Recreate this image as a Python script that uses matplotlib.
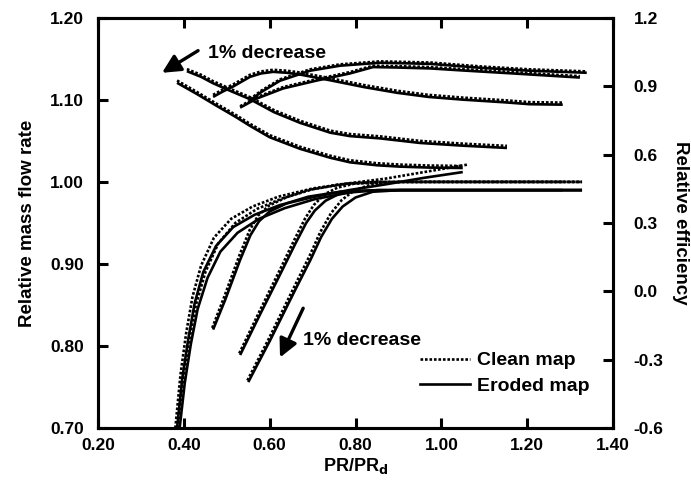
import matplotlib
matplotlib.use('Agg')
import matplotlib.pyplot as plt

plt.rcParams['font.family'] = ['Liberation Sans', 'DejaVu Sans']
plt.rcParams['font.weight'] = 'bold'

# ---- relative mass flow rate (left axis) ----
f1c_x = [0.380, 0.392, 0.405, 0.420, 0.440, 0.470, 0.510, 0.560, 0.620, 0.700, 0.780, 0.870, 0.960, 1.060]
f1c_y = [0.700, 0.765, 0.815, 0.860, 0.898, 0.932, 0.955, 0.970, 0.982, 0.992, 0.998, 1.004, 1.012, 1.021]
f1e_x = [0.384, 0.396, 0.410, 0.425, 0.445, 0.475, 0.515, 0.565, 0.625, 0.705, 0.785, 0.870, 0.960, 1.050]
f1e_y = [0.700, 0.760, 0.808, 0.852, 0.890, 0.922, 0.945, 0.960, 0.972, 0.982, 0.990, 0.997, 1.005, 1.012]

f2c_x = [0.386, 0.398, 0.412, 0.428, 0.450, 0.480, 0.520, 0.570, 0.630, 0.700, 0.780, 0.850, 1.328]
f2c_y = [0.700, 0.758, 0.806, 0.850, 0.890, 0.925, 0.950, 0.967, 0.980, 0.991, 0.998, 1.000, 1.000]
f2e_x = [0.390, 0.402, 0.416, 0.432, 0.455, 0.485, 0.525, 0.575, 0.635, 0.705, 0.785, 0.850, 1.328]
f2e_y = [0.700, 0.755, 0.802, 0.845, 0.883, 0.915, 0.938, 0.955, 0.968, 0.979, 0.987, 0.990, 0.990]

f3c_x = [0.466, 0.494, 0.529, 0.553, 0.573, 0.598, 0.638, 0.688, 0.762, 0.857, 1.283]
f3c_y = [0.822, 0.860, 0.910, 0.941, 0.959, 0.971, 0.981, 0.990, 0.997, 1.000, 1.000]
f3e_x = [0.468, 0.496, 0.531, 0.555, 0.575, 0.600, 0.640, 0.690, 0.764, 0.857, 1.283]
f3e_y = [0.820, 0.856, 0.905, 0.935, 0.952, 0.964, 0.974, 0.982, 0.988, 0.990, 0.990]

f4c_x = [0.529, 0.575, 0.622, 0.658, 0.683, 0.703, 0.728, 0.758, 0.798, 0.904, 1.328]
f4c_y = [0.791, 0.841, 0.891, 0.930, 0.956, 0.972, 0.985, 0.993, 0.998, 1.000, 1.000]
f4e_x = [0.531, 0.577, 0.624, 0.660, 0.685, 0.705, 0.730, 0.760, 0.800, 0.904, 1.328]
f4e_y = [0.789, 0.838, 0.887, 0.925, 0.950, 0.965, 0.977, 0.985, 0.989, 0.990, 0.990]

f5c_x = [0.548, 0.599, 0.657, 0.693, 0.718, 0.743, 0.768, 0.798, 0.838, 0.904, 1.328]
f5c_y = [0.758, 0.810, 0.872, 0.910, 0.939, 0.962, 0.978, 0.990, 0.997, 1.000, 1.000]
f5e_x = [0.550, 0.601, 0.659, 0.695, 0.720, 0.745, 0.770, 0.800, 0.840, 0.904, 1.328]
f5e_y = [0.756, 0.807, 0.868, 0.905, 0.933, 0.955, 0.970, 0.981, 0.988, 0.990, 0.990]

# ---- relative efficiency (right axis) ----
q_x = [0.384, 0.430, 0.477, 0.520, 0.554, 0.600, 0.671, 0.741, 0.787, 0.850, 0.904, 0.970, 1.050]
q_clean = [0.925, 0.875, 0.822, 0.775, 0.735, 0.685, 0.634, 0.595, 0.575, 0.562, 0.556, 0.552, 0.550]
q_eroded = [0.915, 0.866, 0.813, 0.766, 0.726, 0.676, 0.625, 0.586, 0.566, 0.553, 0.547, 0.543, 0.541]

p_x = [0.407, 0.440, 0.468, 0.510, 0.554, 0.610, 0.671, 0.741, 0.787, 0.857, 0.950, 1.050, 1.153]
p_clean = [0.975, 0.950, 0.922, 0.887, 0.852, 0.795, 0.748, 0.705, 0.690, 0.680, 0.660, 0.648, 0.638]
p_eroded = [0.966, 0.941, 0.913, 0.878, 0.843, 0.786, 0.739, 0.696, 0.681, 0.671, 0.651, 0.639, 0.629]

r_x = [0.468, 0.490, 0.515, 0.554, 0.580, 0.608, 0.640, 0.671, 0.741, 0.820, 0.897, 0.970, 1.050, 1.150, 1.206, 1.283]
r_clean = [0.862, 0.885, 0.908, 0.950, 0.965, 0.972, 0.968, 0.960, 0.935, 0.905, 0.880, 0.862, 0.850, 0.838, 0.830, 0.828]
r_eroded = [0.853, 0.876, 0.899, 0.941, 0.956, 0.963, 0.959, 0.951, 0.926, 0.896, 0.871, 0.853, 0.841, 0.829, 0.821, 0.819]

s_x = [0.531, 0.570, 0.631, 0.710, 0.787, 0.841, 0.897, 0.974, 1.050, 1.167, 1.323]
s_clean = [0.812, 0.852, 0.896, 0.931, 0.962, 0.990, 0.988, 0.984, 0.975, 0.962, 0.944]
s_eroded = [0.806, 0.846, 0.890, 0.925, 0.956, 0.984, 0.982, 0.978, 0.969, 0.956, 0.938]

t_x = [0.554, 0.580, 0.624, 0.694, 0.764, 0.857, 0.974, 1.090, 1.206, 1.339]
t_clean = [0.843, 0.880, 0.930, 0.974, 0.996, 1.009, 1.004, 0.987, 0.974, 0.965]
t_eroded = [0.837, 0.874, 0.924, 0.968, 0.990, 1.003, 0.998, 0.981, 0.968, 0.959]

flow_clean = [(f1c_x, f1c_y), (f2c_x, f2c_y), (f3c_x, f3c_y), (f4c_x, f4c_y), (f5c_x, f5c_y)]
flow_eroded = [(f1e_x, f1e_y), (f2e_x, f2e_y), (f3e_x, f3e_y), (f4e_x, f4e_y), (f5e_x, f5e_y)]
eff = [(q_x, q_clean, q_eroded), (p_x, p_clean, p_eroded), (r_x, r_clean, r_eroded),
       (s_x, s_clean, s_eroded), (t_x, t_clean, t_eroded)]

dot = (0, (1.0, 0.7))
lw = 1.9

fig = plt.figure(figsize=(6.91, 4.82), dpi=100)
ax = fig.add_axes([0.142, 0.112, 0.745, 0.851])
ax2 = ax.twinx()

for x, y in flow_eroded:
    ax.plot(x, y, color='black', lw=lw, solid_capstyle='butt', solid_joinstyle='round')
for x, y in flow_clean:
    ax.plot(x, y, color='black', lw=lw, ls=dot)
for x, yc, ye in eff:
    ax2.plot(x, ye, color='black', lw=lw, solid_capstyle='butt', solid_joinstyle='round')
    ax2.plot(x, yc, color='black', lw=lw, ls=dot)

ax.set_xlim(0.2, 1.4)
ax.set_ylim(0.7, 1.2)
ax2.set_ylim(-0.6, 1.2)
ax.set_xticks([0.2, 0.4, 0.6, 0.8, 1.0, 1.2, 1.4])
ax.set_xticklabels(['0.20', '0.40', '0.60', '0.80', '1.00', '1.20', '1.40'])
ax.set_yticks([0.7, 0.8, 0.9, 1.0, 1.1, 1.2])
ax.set_yticklabels(['0.70', '0.80', '0.90', '1.00', '1.10', '1.20'])
ax2.set_yticks([-0.6, -0.3, 0.0, 0.3, 0.6, 0.9, 1.2])
ax2.set_yticklabels(['-0.6', '-0.3', '0.0', '0.3', '0.6', '0.9', '1.2'])

for a in (ax, ax2):
    for s in a.spines.values():
        s.set_linewidth(2.2)
ax.tick_params(axis='x', direction='in', length=7, width=2.2, labelsize=12.5, pad=7, top=True)
ax.tick_params(axis='y', direction='in', length=7, width=2.2, labelsize=12.5, pad=10)
ax2.tick_params(axis='y', direction='in', length=7, width=2.2, labelsize=12.5, pad=15)

ax.set_xlabel('PR/PR$_\\mathbf{d}$', fontsize=13, fontweight='bold', labelpad=2)
ax.set_ylabel('Relative mass flow rate', fontsize=13.5, fontweight='bold', labelpad=10)
ax2.set_ylabel('Relative efficiency', fontsize=13.5, fontweight='bold', rotation=270, labelpad=18)

arrow = dict(arrowstyle='-|>,head_length=1.1,head_width=0.55', color='black', lw=2.4,
             shrinkA=0, shrinkB=0)
ax.annotate('', xy=(0.349, 1.133), xytext=(0.433, 1.160), arrowprops=arrow)
ax.text(0.456, 1.156, '1% decrease', fontsize=14, fontweight='bold', va='center')
ax.annotate('', xy=(0.624, 0.786), xytext=(0.678, 0.846), arrowprops=arrow)
ax.text(0.678, 0.807, '1% decrease', fontsize=14, fontweight='bold', va='center')

ax.plot([], [], color='black', lw=lw, ls=dot, label='Clean map')
ax.plot([], [], color='black', lw=lw, label='Eroded map')
ax.legend(loc='upper left', bbox_to_anchor=(0.610, 0.205), borderaxespad=0, frameon=False,
          fontsize=14, handlelength=2.6, handletextpad=0.35, labelspacing=0.4)

fig.savefig('out.png', dpi=100)
